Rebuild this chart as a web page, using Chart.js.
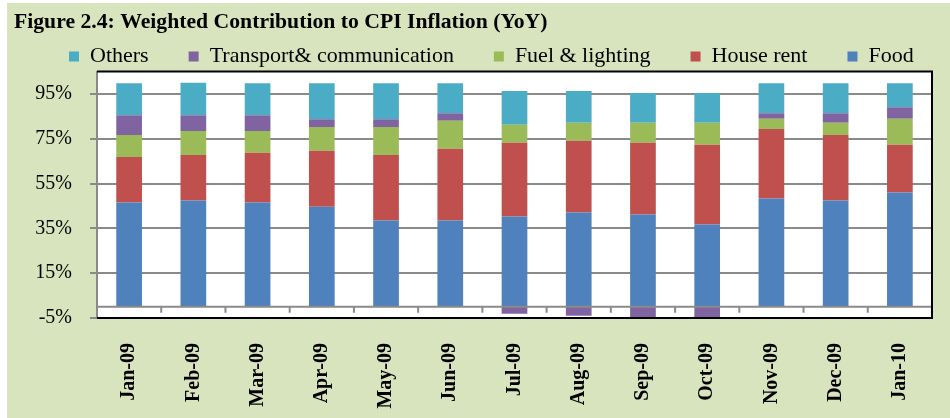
<!DOCTYPE html>
<html>
<head>
  <title>Weighted Contribution to CPI Inflation</title>
  <script src="https://cdn.jsdelivr.net/npm/chart.js"></script>
  <style>
    body { margin: 0; background: #fff; }
    #box { position: absolute; left: 7px; top: 3px; width: 943px; height: 415px; background: #d7e4bd; }
  </style>
</head>
<body>
  <div id="box"><canvas id="cpiChart" width="943" height="415"></canvas></div>
  <script>
    // values (percentage points of YoY CPI inflation)
    const months = ['Jan-09', 'Feb-09', 'Mar-09', 'Apr-09', 'May-09', 'Jun-09', 'Jul-09',
                    'Aug-09', 'Sep-09', 'Oct-09', 'Nov-09', 'Dec-09', 'Jan-10'];
    const food      = [46.5, 47.4, 46.5, 44.7, 38.5, 38.5, 40.3, 42.1, 41.2, 36.7, 48.3, 47.4, 51.0];
    const houseRent = [20.4, 20.4, 22.2, 24.9, 29.3, 32.0, 32.9, 32.0, 32.0, 35.6, 31.1, 29.3, 21.3];
    const fuel      = [9.8, 10.7, 9.8, 10.7, 12.5, 12.5, 8.0, 8.0, 8.9, 9.8, 4.5, 5.4, 11.6];
    const transport = [8.8, 7.0, 7.0, 3.4, 3.4, 3.4, -3.1, -4.0, -5.0, -5.0, 2.5, 4.3, 5.2];
    const others    = [14.3, 14.5, 14.3, 16.1, 16.1, 13.4, 15.1, 14.2, 13.3, 13.3, 13.4, 13.4, 10.7];
    const yTicks = [-5, 15, 35, 55, 75, 95];

    const serif = "'Liberation Serif', 'Times New Roman', serif";
    const gridGray = '#8a8a8a';
    const legendGap = 40;

    // white plot area, black frame, zero axis with category tick marks
    const plotFrame = {
      id: 'plotFrame',
      afterLayout(chart) {
        // keep the legend on one row and place it like the original
        const lg = chart.legend;
        lg.maxWidth = 2000;
        lg.fit();
        lg.left = 62 - legendGap;
        lg.right = 2000;
        lg.top = 53.5 - 11 - legendGap;
        lg.bottom = chart.chartArea.top;
      },
      beforeDraw(chart) {
        const { ctx, chartArea: a } = chart;
        ctx.save();
        ctx.fillStyle = '#fff';
        ctx.fillRect(a.left, a.top, a.right - a.left, a.bottom - a.top);
        ctx.restore();
      },
      afterDatasetsDraw(chart) {
        const { ctx, chartArea: a, scales } = chart;
        const y0 = scales.y.getPixelForValue(0);
        const step = (a.right - a.left) / months.length;
        ctx.save();
        ctx.strokeStyle = gridGray;
        ctx.lineWidth = 2;
        ctx.beginPath();
        ctx.moveTo(a.left, y0);
        ctx.lineTo(a.right, y0);
        for (let i = 1; i <= months.length; i++) {
          const px = a.left + i * step;
          ctx.moveTo(px, y0);
          ctx.lineTo(px, y0 + 6);
        }
        ctx.stroke();
        ctx.strokeStyle = '#000';
        ctx.beginPath();
        ctx.moveTo(a.left, a.top);
        ctx.lineTo(a.right, a.top);
        ctx.lineTo(a.right, a.bottom);
        ctx.lineTo(a.left, a.bottom);
        ctx.stroke();
        ctx.restore();
      }
    };

    const ctx = document.getElementById('cpiChart').getContext('2d');
    const cpiChart = new Chart(ctx, {
      type: 'bar',
      data: {
        labels: months,
        datasets: [
          { label: 'Food', data: food, backgroundColor: '#4f81bd' },
          { label: 'House rent', data: houseRent, backgroundColor: '#c0504d' },
          { label: 'Fuel & lighting', data: fuel, backgroundColor: '#9bbb59' },
          { label: 'Transport& communication', data: transport, backgroundColor: '#8064a2' },
          { label: 'Others', data: others, backgroundColor: '#4bacc6' }
        ]
      },
      options: {
        responsive: false,
        animation: false,
        categoryPercentage: 1,
        barPercentage: 0.4,
        borderWidth: 0,
        layout: { padding: { left: 7, right: 18, top: 0, bottom: 0 } },
        plugins: {
          title: {
            display: true,
            text: 'Figure 2.4: Weighted Contribution to CPI Inflation (YoY)',
            align: 'start',
            color: '#000',
            font: { family: serif, size: 21.7, weight: 'bold' },
            padding: { top: 6, bottom: 5.5 }
          },
          legend: {
            reverse: true,
            align: 'start',
            maxHeight: 31,
            labels: {
              boxWidth: 10,
              boxHeight: 10,
              padding: legendGap,
              color: '#000',
              font: { family: serif, size: 22 }
            }
          },
          tooltip: { enabled: false }
        },
        scales: {
          x: {
            stacked: true,
            grid: { display: false, drawTicks: false },
            border: { color: '#000', width: 2 },
            ticks: {
              minRotation: 90,
              maxRotation: 90,
              padding: 25,
              color: '#000',
              font: { family: serif, size: 20, weight: 'bold' }
            },
            afterFit(scale) { scale.height = 100; }
          },
          y: {
            stacked: true,
            min: -5,
            max: 105,
            afterBuildTicks(scale) { scale.ticks = yTicks.map(v => ({ value: v })); },
            grid: { color: gridGray, lineWidth: 2, tickLength: 7 },
            border: { color: gridGray, width: 2 },
            ticks: {
              padding: 18,
              color: '#000',
              font: { family: serif, size: 20 },
              callback: v => v + '%'
            },
            afterFit(scale) { scale.width = 83; }
          }
        }
      },
      plugins: [plotFrame]
    });
  </script>
</body>
</html>
